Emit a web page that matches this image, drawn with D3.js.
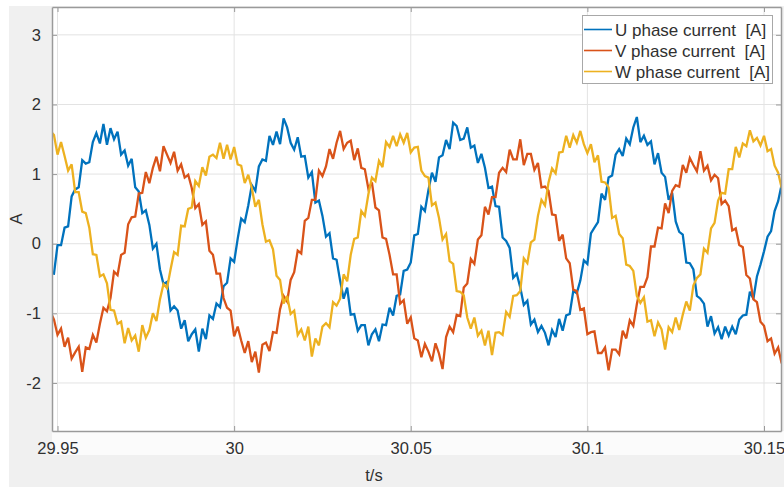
<!DOCTYPE html>
<html>
<head>
<meta charset="utf-8">
<script src="https://cdn.jsdelivr.net/npm/d3@7"></script>
<style>
  body { margin: 0; background: #ffffff; }
  svg { display: block; font-family: "Liberation Sans", Arial, Helvetica, sans-serif; }
  text { white-space: pre; }
</style>
</head>
<body>
<svg id="chart" width="784" height="487"></svg>
<script>
// Sampled phase currents, 1 kHz sampling starting at t = 29.948 s
const sampleStart = 29.948;
const sampleStep = 0.001;

const uPhase = [
  -0.42,-0.43,-0.02,-0.02,0.23,0.25,0.68,0.78,0.81,1.20,
  1.15,1.17,1.46,1.59,1.44,1.72,1.42,1.66,1.50,1.61,
  1.28,1.34,1.12,1.22,0.81,0.75,0.44,0.48,0.27,-0.07,
  0.00,-0.37,-0.58,-0.55,-0.96,-0.90,-0.96,-1.22,-1.10,-1.40,
  -1.30,-1.23,-1.55,-1.22,-1.37,-1.03,-1.08,-0.86,-0.91,-0.61,
  -0.56,-0.21,-0.26,0.07,0.36,0.31,0.55,0.84,0.76,1.11,
  1.21,1.19,1.55,1.42,1.61,1.43,1.80,1.67,1.45,1.35,
  1.53,1.25,1.26,0.95,1.03,0.59,0.62,0.40,0.10,0.15,
  -0.21,-0.23,-0.53,-0.79,-0.63,-1.02,-1.01,-1.25,-1.17,-1.17,
  -1.46,-1.30,-1.23,-1.40,-1.16,-1.17,-0.92,-1.03,-0.75,-0.73,
  -0.39,-0.37,-0.27,0.12,0.14,0.53,0.47,0.77,1.02,0.89,
  1.24,1.27,1.49,1.36,1.74,1.69,1.49,1.51,1.67,1.38,
  1.41,1.16,1.29,1.09,0.80,0.82,0.54,0.53,0.09,0.04,
  -0.06,-0.49,-0.43,-0.63,-0.88,-0.82,-1.16,-1.09,-1.27,-1.18,
  -1.28,-1.46,-1.24,-1.34,-1.08,-1.25,-1.03,-1.01,-0.68,-0.71,
  -0.53,-0.24,-0.29,0.15,0.23,0.31,0.72,0.63,0.95,0.98,
  1.28,1.36,1.26,1.51,1.43,1.67,1.82,1.46,1.55,1.42,
  1.47,1.14,1.30,1.02,0.96,0.63,0.73,0.32,0.17,0.13,
  -0.27,-0.28,-0.37,-0.75,-0.79,-0.86,-1.19,-1.04,-1.29,-1.20,
  -1.37,-1.19,-1.32,-1.19,-1.30,-1.09,-1.03,-1.02,-0.69,-0.79,
  -0.47,-0.30,-0.11,0.10,0.18,0.47,0.61,0.85
];

const vPhase = [
  -0.98,-1.09,-1.31,-1.22,-1.48,-1.35,-1.65,-1.56,-1.48,-1.84,
  -1.49,-1.51,-1.31,-1.42,-1.15,-0.92,-0.97,-0.78,-0.40,-0.45,
  -0.16,-0.13,0.28,0.38,0.39,0.72,0.73,1.03,0.87,1.09,
  1.25,1.04,1.40,1.28,1.16,1.32,1.05,1.14,0.95,0.99,
  0.80,0.51,0.57,0.27,0.32,-0.10,-0.16,-0.43,-0.43,-0.78,
  -0.92,-0.96,-1.33,-1.19,-1.39,-1.57,-1.40,-1.70,-1.55,-1.85,
  -1.45,-1.42,-1.54,-1.27,-1.28,-0.94,-0.75,-0.83,-0.52,-0.41,
  -0.10,-0.14,0.33,0.37,0.63,0.63,1.05,0.97,1.11,1.36,
  1.22,1.45,1.62,1.36,1.45,1.48,1.20,1.37,1.09,1.07,
  0.79,0.88,0.52,0.48,0.09,0.07,-0.16,-0.44,-0.44,-0.86,
  -0.81,-1.15,-1.06,-1.36,-1.39,-1.63,-1.44,-1.55,-1.69,-1.43,
  -1.58,-1.80,-1.34,-1.19,-1.27,-1.02,-1.04,-0.63,-0.57,-0.22,
  -0.29,0.06,0.12,0.53,0.42,0.67,0.67,1.02,1.09,1.03,
  1.35,1.21,1.21,1.50,1.13,1.29,1.29,1.06,1.16,0.81,
  0.82,0.76,0.42,0.41,0.04,0.13,-0.21,-0.28,-0.66,-0.68,
  -0.95,-0.93,-1.30,-1.27,-1.26,-1.57,-1.57,-1.49,-1.82,-1.52,
  -1.52,-1.59,-1.25,-1.36,-1.10,-1.18,-0.87,-0.62,-0.62,-0.48,
  -0.04,-0.04,0.23,0.22,0.58,0.44,0.76,0.84,0.82,1.13,
  1.02,1.23,1.13,1.04,1.33,1.05,1.12,0.91,0.99,0.94,
  0.57,0.62,0.54,0.19,0.22,-0.02,-0.05,-0.45,-0.50,-0.80,
  -0.84,-1.12,-1.18,-1.40,-1.36,-1.58,-1.49,-1.72
];

const wPhase = [
  1.62,1.56,1.28,1.46,1.26,1.05,1.14,0.74,0.74,0.46,
  0.44,0.23,-0.15,-0.16,-0.47,-0.44,-0.57,-0.95,-0.96,-1.15,
  -1.12,-1.43,-1.21,-1.39,-1.32,-1.55,-1.17,-1.35,-1.24,-1.00,
  -1.11,-0.80,-0.58,-0.64,-0.37,-0.12,-0.16,0.26,0.25,0.50,
  0.52,0.90,0.83,1.10,0.98,1.25,1.28,1.23,1.45,1.22,
  1.42,1.21,1.39,1.14,1.12,0.87,0.99,0.80,0.53,0.63,
  0.28,0.03,0.05,-0.08,-0.46,-0.52,-0.86,-0.75,-1.01,-0.96,
  -1.31,-1.23,-1.39,-1.19,-1.62,-1.36,-1.46,-1.19,-1.14,-1.20,
  -0.84,-0.89,-0.79,-0.44,-0.54,-0.16,0.07,0.09,0.47,0.40,
  0.71,0.95,0.90,1.19,1.10,1.46,1.39,1.55,1.40,1.57,
  1.45,1.59,1.31,1.38,1.39,1.05,0.97,0.95,0.55,0.59,
  0.37,0.06,0.14,-0.25,-0.29,-0.68,-0.69,-0.74,-1.06,-1.22,
  -1.06,-1.32,-1.25,-1.46,-1.25,-1.60,-1.28,-1.27,-1.31,-0.98,
  -1.05,-0.75,-0.74,-0.68,-0.21,-0.28,0.02,0.06,0.40,0.63,
  0.55,0.88,1.08,1.01,1.31,1.32,1.55,1.38,1.56,1.45,
  1.62,1.43,1.30,1.43,1.17,1.27,0.89,0.88,0.81,0.37,
  0.40,0.14,0.08,-0.30,-0.32,-0.39,-0.75,-0.85,-0.77,-1.12,
  -1.10,-1.33,-1.13,-1.23,-1.52,-1.20,-1.27,-1.06,-1.24,-1.02,
  -0.83,-0.96,-0.60,-0.49,-0.44,-0.07,-0.13,0.22,0.30,0.62,
  0.73,0.72,1.07,1.07,1.39,1.24,1.44,1.40,1.63,1.47,
  1.52,1.41,1.55,1.33,1.36,1.12,1.02,0.80
];

const seriesNames = ["U phase current  [A]", "V phase current  [A]", "W phase current  [A]"];
const seriesColors = ["#0072BD", "#D95319", "#EDB120"];
const xTicks = [29.95, 30, 30.05, 30.1, 30.15];
const xTickLabels = ["29.95", "30", "30.05", "30.1", "30.15"];
const yTicks = [-2, -1, 0, 1, 2, 3];
const yTickLabels = ["-2", "-1", "0", "1", "2", "3"];
const xDomain = [29.94844, 30.15481];
const yDomain = [-2.69, 3.40];

const svg = d3.select("#chart");
const W = 784, H = 487;
const plot = { left: 52, right: 781, top: 7, bottom: 431 };

const x = d3.scaleLinear().domain(xDomain).range([plot.left, plot.right]);
const y = d3.scaleLinear().domain(yDomain).range([plot.bottom, plot.top]);

// figure background
svg.append("rect").attr("width", W).attr("height", H).attr("fill", "#ffffff");
svg.append("rect").attr("x", 9).attr("y", 6).attr("width", W - 9).attr("height", H - 6).attr("fill", "#f0f0f0");
svg.append("rect").attr("x", plot.left).attr("y", plot.bottom).attr("width", W - plot.left).attr("height", 24).attr("fill", "#fbfbfb");
svg.append("rect").attr("x", plot.left).attr("y", plot.top)
  .attr("width", plot.right - plot.left).attr("height", plot.bottom - plot.top).attr("fill", "#ffffff");

// grid
const grid = svg.append("g");
grid.selectAll("line.gx").data(xTicks).join("line")
  .attr("x1", d => x(d)).attr("x2", d => x(d))
  .attr("y1", plot.top).attr("y2", plot.bottom)
  .attr("stroke", "#e3e3e3").attr("stroke-width", 1);
grid.selectAll("line.gy").data(yTicks).join("line")
  .attr("x1", plot.left).attr("x2", plot.right)
  .attr("y1", d => y(d)).attr("y2", d => y(d))
  .attr("stroke", "#e3e3e3").attr("stroke-width", 1);

// series
svg.append("clipPath").attr("id", "plotclip").append("rect")
  .attr("x", plot.left).attr("y", plot.top)
  .attr("width", plot.right - plot.left).attr("height", plot.bottom - plot.top);

const allSeries = [uPhase, vPhase, wPhase];
const line = d3.line()
  .x((d, i) => x(sampleStart + i * sampleStep))
  .y(d => y(d));

const lines = svg.append("g").attr("clip-path", "url(#plotclip)");
allSeries.forEach((s, k) => {
  lines.append("path").datum(s)
    .attr("d", line)
    .attr("fill", "none")
    .attr("stroke", seriesColors[k])
    .attr("stroke-width", 2.3)
    .attr("stroke-linejoin", "miter")
    .attr("stroke-miterlimit", 3);
});

// axes (box with inward ticks on all sides)
const tickLen = 5;
const xAxisB = d3.axisBottom(x).tickValues(xTicks).tickFormat((d, i) => xTickLabels[i]).tickSizeInner(-tickLen).tickSizeOuter(0).tickPadding(11);
const xAxisT = d3.axisTop(x).tickValues(xTicks).tickFormat("").tickSizeInner(-tickLen).tickSizeOuter(0);
const yAxisL = d3.axisLeft(y).tickValues(yTicks).tickFormat((d, i) => yTickLabels[i]).tickSizeInner(-tickLen).tickSizeOuter(0).tickPadding(11);
const yAxisR = d3.axisRight(y).tickValues(yTicks).tickFormat("").tickSizeInner(-tickLen).tickSizeOuter(0);

function styleAxis(g) {
  g.select(".domain").attr("stroke", "#9a9a9a").attr("stroke-width", 1.5);
  g.selectAll(".tick line").attr("stroke", "#9a9a9a").attr("stroke-width", 1);
  g.selectAll(".tick text").attr("fill", "#303030").attr("font-size", 16.5)
    .attr("font-family", "'Liberation Sans', Arial, sans-serif");
}

svg.append("g").attr("transform", `translate(0,${plot.bottom})`).call(xAxisB).call(styleAxis);
svg.append("g").attr("transform", `translate(0,${plot.top})`).call(xAxisT).call(styleAxis);
svg.append("g").attr("transform", `translate(${plot.left},0)`).call(yAxisL).call(styleAxis);
svg.append("g").attr("transform", `translate(${plot.right},0)`).call(yAxisR).call(styleAxis);

// axis labels
svg.append("text").attr("x", 374).attr("y", 481).attr("text-anchor", "middle")
  .attr("font-size", 16.5).attr("fill", "#303030").text("t/s");
svg.append("text").attr("transform", "translate(22,219) rotate(-90)").attr("text-anchor", "middle")
  .attr("font-size", 16.5).attr("fill", "#303030").text("A");

// legend
const leg = svg.append("g");
leg.append("rect").attr("x", 582.5).attr("y", 15.5).attr("width", 190).attr("height", 68)
  .attr("fill", "#ffffff").attr("stroke", "#a8a8a8").attr("stroke-width", 1);
seriesNames.forEach((name, k) => {
  const cy = 29.5 + k * 21;
  leg.append("line").attr("x1", 584).attr("x2", 612).attr("y1", cy).attr("y2", cy)
    .attr("stroke", seriesColors[k]).attr("stroke-width", 1.6);
  leg.append("text").attr("x", 615).attr("y", cy + 6).attr("font-size", 17)
    .attr("fill", "#303030").text(name);
});
</script>
</body>
</html>
